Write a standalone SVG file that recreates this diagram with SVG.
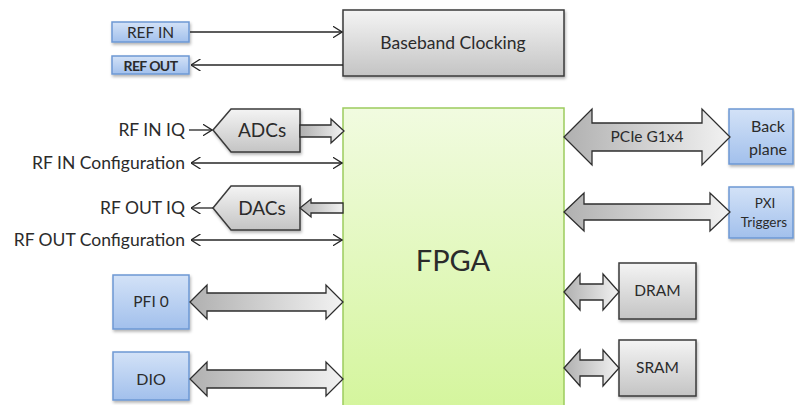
<svg xmlns="http://www.w3.org/2000/svg" width="795" height="405" viewBox="0 0 795 405">
  <defs>
    <linearGradient id="gGray" x1="0" y1="0" x2="0" y2="1">
      <stop offset="0" stop-color="#f4f4f4"/>
      <stop offset="1" stop-color="#c4c4c4"/>
    </linearGradient>
    <linearGradient id="gBlue" x1="0" y1="0" x2="0" y2="1">
      <stop offset="0" stop-color="#d3e2f7"/>
      <stop offset="1" stop-color="#a2c0ec"/>
    </linearGradient>
    <linearGradient id="gGreen" x1="0" y1="0" x2="0" y2="1">
      <stop offset="0" stop-color="#f1fbe0"/>
      <stop offset="1" stop-color="#d4f59c"/>
    </linearGradient>
    <linearGradient id="gBus" x1="0" y1="0" x2="1" y2="0">
      <stop offset="0" stop-color="#b0b0b0"/>
      <stop offset="1" stop-color="#f2f2f2"/>
    </linearGradient>
    <filter id="shadow" x="-10%" y="-10%" width="130%" height="140%">
      <feDropShadow dx="1" dy="2" stdDeviation="1.5" flood-color="#000" flood-opacity="0.3"/>
    </filter>
    <marker id="chev" viewBox="0 0 10 12" refX="9.5" refY="6" markerWidth="10" markerHeight="12" markerUnits="userSpaceOnUse" orient="auto-start-reverse">
      <path d="M0,0 L9.5,6 L0,12" fill="none" stroke="#262626" stroke-width="1.3"/>
    </marker>
  </defs>
  <style>
    text { font-family: Lato, "Liberation Sans", sans-serif; fill: #2b2b2b; }
    .gray { fill: url(#gGray); stroke: #3a3a3a; stroke-width: 1.5; filter: url(#shadow); }
    .blue { fill: url(#gBlue); stroke: #6d98d4; stroke-width: 1.5; filter: url(#shadow); }
    .fpga { fill: url(#gGreen); stroke: #9ccb5e; stroke-width: 1.5; }
    .bus { fill: url(#gBus); stroke: #2e2e2e; stroke-width: 1.3; stroke-linejoin: miter; }
    .wire { fill: none; stroke: #262626; stroke-width: 1.3; }
    .lbl { font-size: 17.5px; text-anchor: end; }
    .c { text-anchor: middle; }
  </style>

  <!-- central FPGA -->
  <g id="fpga">
    <rect class="fpga" x="343" y="108" width="221" height="305"/>
    <text class="c" x="453" y="271" font-size="29">FPGA</text>
  </g>

  <g id="baseband-clocking">
    <rect class="gray" x="343" y="10" width="221" height="66"/>
    <text class="c" x="453" y="49" font-size="17.5">Baseband Clocking</text>
  </g>

  <g id="ref-in">
    <rect class="blue" x="112" y="22" width="77" height="20"/>
    <text class="c" x="150.5" y="37.5" font-size="15.5">REF IN</text>
  </g>
  <g id="ref-out">
    <rect class="blue" x="112" y="56" width="77" height="18"/>
    <text class="c" x="150.5" y="70.5" font-size="14" font-weight="bold" letter-spacing="-0.6">REF OUT</text>
  </g>

  <g id="adcs">
    <path class="gray" d="M213,130 L231,109 H300 V152 H231 Z"/>
    <text class="c" x="262" y="137" font-size="19">ADCs</text>
  </g>
  <g id="dacs">
    <path class="gray" d="M213,208 L231,186 H300 V230 H231 Z"/>
    <text class="c" x="262" y="215" font-size="19">DACs</text>
  </g>

  <g id="pfi0">
    <rect class="blue" x="113" y="275" width="76" height="54"/>
    <text class="c" x="151" y="307" font-size="15.5">PFI 0</text>
  </g>
  <g id="dio">
    <rect class="blue" x="113" y="352" width="76" height="48"/>
    <text class="c" x="151" y="385" font-size="16">DIO</text>
  </g>

  <g id="backplane">
    <rect class="blue" x="729" y="109" width="64" height="55"/>
    <text class="c" x="768" y="132" font-size="16">Back</text>
    <text class="c" x="768" y="155" font-size="16">plane</text>
  </g>
  <g id="pxi-triggers">
    <rect class="blue" x="729" y="187" width="64" height="51"/>
    <text class="c" x="765" y="208" font-size="13.5">PXI</text>
    <text class="c" x="764" y="227" font-size="13.5">Triggers</text>
  </g>

  <g id="dram">
    <rect class="gray" x="619" y="263" width="77" height="56"/>
    <text class="c" x="657.5" y="296" font-size="15.5">DRAM</text>
  </g>
  <g id="sram">
    <rect class="gray" x="619" y="340" width="77" height="56"/>
    <text class="c" x="657.5" y="373" font-size="15.5">SRAM</text>
  </g>

  <!-- free-standing signal labels -->
  <g id="signal-labels">
    <text class="lbl" x="185" y="136">RF IN IQ</text>
    <text class="lbl" x="185" y="169">RF IN Configuration</text>
    <text class="lbl" x="185" y="214">RF OUT IQ</text>
    <text class="lbl" x="185" y="246">RF OUT Configuration</text>
  </g>

  <g id="connectors">
    <!-- thin signal lines -->
    <line class="wire" x1="190" y1="32" x2="342" y2="32" marker-end="url(#chev)"/>
    <line class="wire" x1="343" y1="65" x2="191" y2="65" marker-end="url(#chev)"/>
    <line class="wire" x1="189" y1="130" x2="212" y2="130" marker-end="url(#chev)"/>
    <line class="wire" x1="191" y1="163" x2="342" y2="163" marker-start="url(#chev)" marker-end="url(#chev)"/>
    <line class="wire" x1="213" y1="208" x2="191" y2="208" marker-end="url(#chev)"/>
    <line class="wire" x1="191" y1="240" x2="342" y2="240" marker-start="url(#chev)" marker-end="url(#chev)"/>

    <!-- one-way data buses -->
    <path class="bus" d="M300,125 H331 V119 L344,131 L331,143 V137 H300 Z"/>
    <path class="bus" d="M343,203 H311 V199 L300,208 L311,217 V213 H343 Z"/>

    <!-- two-way buses -->
    <path class="bus" d="M564,137 L592,109 V123 H702 V109 L730,137 L702,165 V151 H592 V165 Z"/>
    <text class="c" x="647" y="142" font-size="15.5">PCIe G1x4</text>
    <path class="bus" d="M564,212 L584,193 V204 H710 V193 L730,212 L710,231 V220 H584 V231 Z"/>
    <path class="bus" d="M564,292 L580,274 V284 H603 V274 L619,292 L603,310 V300 H580 V310 Z"/>
    <path class="bus" d="M564,368 L580,350 V360 H603 V350 L619,368 L603,386 V376 H580 V386 Z"/>
    <path class="bus" d="M190,302 L207,285 V293 H326 V285 L343,302 L326,319 V311 H207 V319 Z"/>
    <path class="bus" d="M190,379 L207,362 V370 H326 V362 L343,379 L326,396 V388 H207 V396 Z"/>
  </g>
</svg>
